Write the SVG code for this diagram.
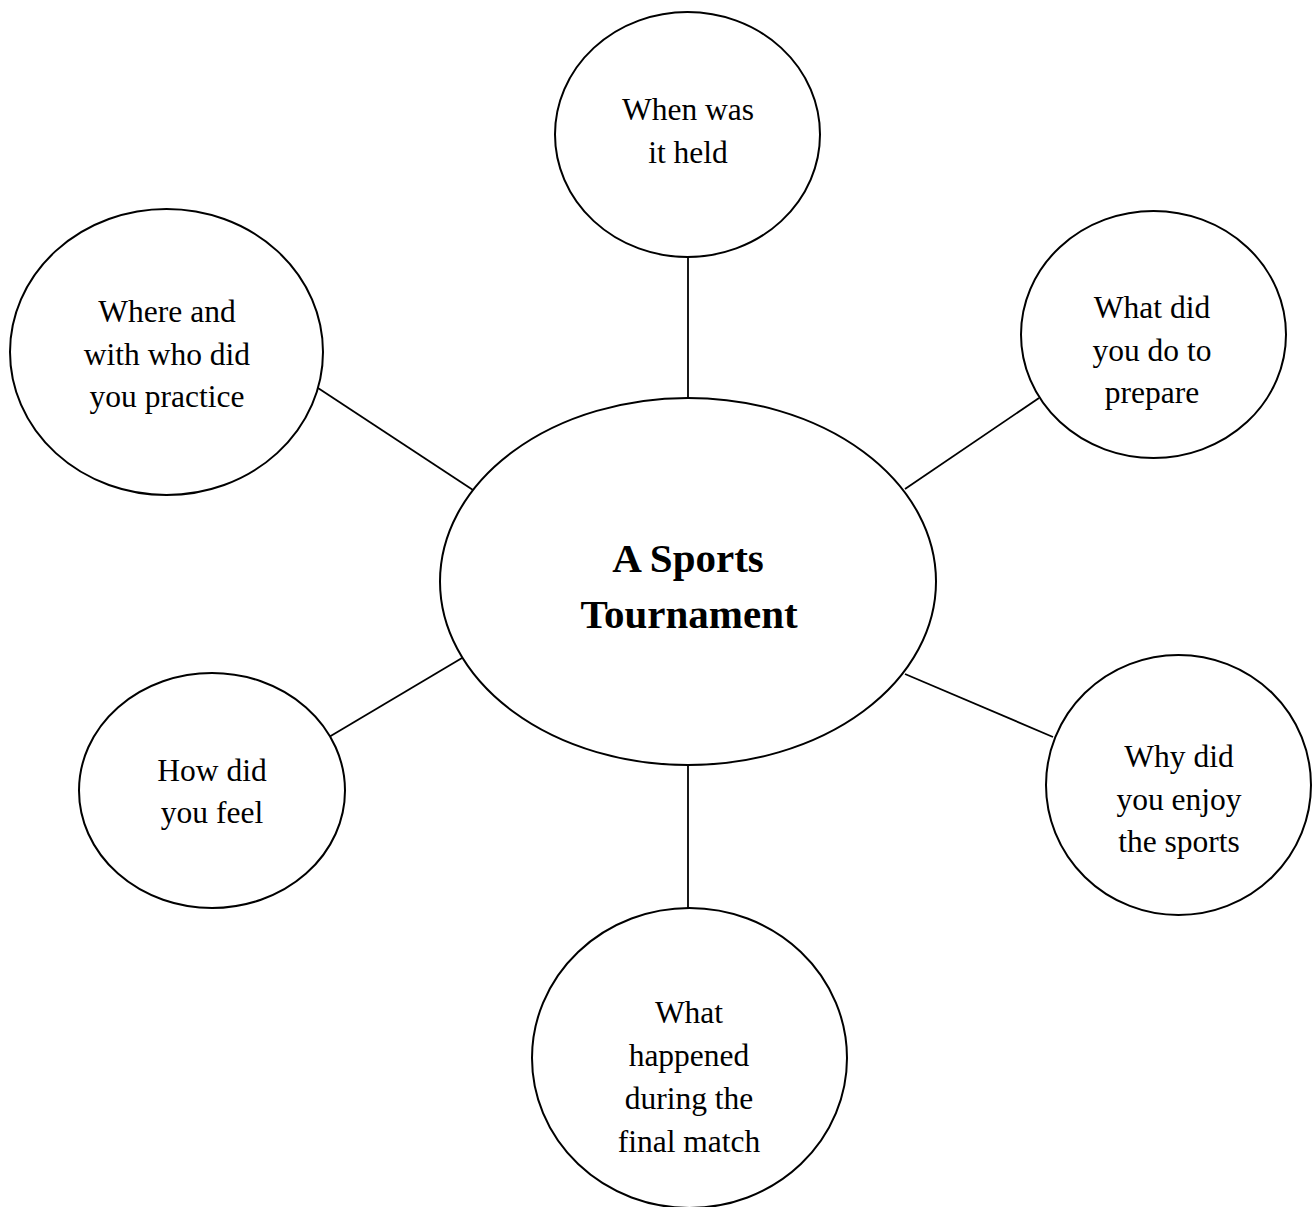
<svg xmlns="http://www.w3.org/2000/svg" width="1313" height="1207" viewBox="0 0 1313 1207">
<style>
.n{fill:#fff;stroke:#000;stroke-width:2}
.c line{stroke:#000;stroke-width:1.8}
.t{font-family:"Liberation Serif","Times New Roman",serif;font-size:31.5px;fill:#000;text-anchor:middle}
.b{font-family:"Liberation Serif","Times New Roman",serif;font-size:41px;font-weight:bold;fill:#000;text-anchor:middle}
</style>
<rect width="1313" height="1207" fill="#fff"/>
<g id="connectors" class="c">
<line x1="688" y1="257" x2="688" y2="398"/>
<line x1="318" y1="388" x2="473" y2="490"/>
<line x1="1039" y1="398" x2="905" y2="489"/>
<line x1="329" y1="737" x2="462" y2="658"/>
<line x1="905" y1="674" x2="1053" y2="737"/>
<line x1="688" y1="765" x2="688" y2="908"/>
</g>
<g id="center">
<ellipse class="n" cx="688" cy="581.5" rx="248" ry="183.5"/>
<text class="b" x="688" y="572">A Sports</text>
<text class="b" x="689" y="628">Tournament</text>
</g>
<g id="when">
<ellipse class="n" cx="687.5" cy="134.5" rx="132.5" ry="122.5"/>
<text class="t" x="688" y="120">When was</text>
<text class="t" x="688" y="163">it held</text>
</g>
<g id="where">
<ellipse class="n" cx="166.5" cy="352" rx="156.5" ry="143"/>
<text class="t" x="167" y="322">Where and</text>
<text class="t" x="167" y="365">with who did</text>
<text class="t" x="167" y="407">you practice</text>
</g>
<g id="prepare">
<ellipse class="n" cx="1153.5" cy="334.5" rx="132.5" ry="123.5"/>
<text class="t" x="1152" y="318">What did</text>
<text class="t" x="1152" y="361">you do to</text>
<text class="t" x="1152" y="403">prepare</text>
</g>
<g id="feel">
<ellipse class="n" cx="212" cy="790.5" rx="133" ry="117.5"/>
<text class="t" x="212" y="781">How did</text>
<text class="t" x="212" y="823">you feel</text>
</g>
<g id="enjoy">
<ellipse class="n" cx="1178.5" cy="785" rx="132.5" ry="130"/>
<text class="t" x="1179" y="767">Why did</text>
<text class="t" x="1179" y="810">you enjoy</text>
<text class="t" x="1179" y="852">the sports</text>
</g>
<g id="final">
<ellipse class="n" cx="689.5" cy="1058" rx="157.5" ry="150"/>
<text class="t" x="689" y="1023">What</text>
<text class="t" x="689" y="1066">happened</text>
<text class="t" x="689" y="1109">during the</text>
<text class="t" x="689" y="1152">final match</text>
</g>
</svg>
